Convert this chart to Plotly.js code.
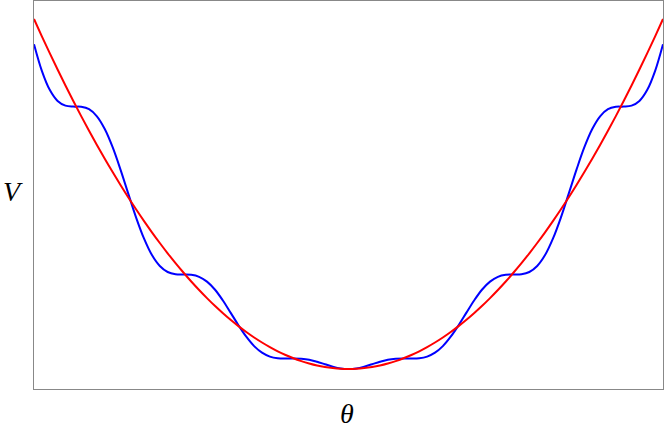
<!DOCTYPE html>
<html>
<head>
<meta charset="utf-8">
<script src="https://cdn.plot.ly/plotly-3.0.1.min.js"></script>
<style>
  html, body { margin: 0; padding: 0; background: #fff; }
  #chart { width: 664px; height: 432px; }
</style>
</head>
<body>
<div id="chart"></div>
<script>
// theta across the plot (no ticks shown, so units are arbitrary)
const theta = [
  -1, -0.975, -0.95, -0.925, -0.9, -0.875, -0.85, -0.825, -0.8, -0.775,
  -0.75, -0.725, -0.7, -0.675, -0.65, -0.625, -0.6, -0.575, -0.55, -0.525,
  -0.5, -0.475, -0.45, -0.425, -0.4, -0.375, -0.35, -0.325, -0.3, -0.275,
  -0.25, -0.225, -0.2, -0.175, -0.15, -0.125, -0.1, -0.075, -0.05, -0.025,
  0,
  0.025, 0.05, 0.075, 0.1, 0.125, 0.15, 0.175, 0.2, 0.225, 0.25,
  0.275, 0.3, 0.325, 0.35, 0.375, 0.4, 0.425, 0.45, 0.475, 0.5,
  0.525, 0.55, 0.575, 0.6, 0.625, 0.65, 0.675, 0.7, 0.725, 0.75,
  0.775, 0.8, 0.825, 0.85, 0.875, 0.9, 0.925, 0.95, 0.975, 1
];

// blue "staircase" potential
const vBlue = [
  344.8, 318.2, 299.2, 288.1, 283.4, 282.4, 282.2, 279.8, 272.7, 260.0,
  241.8, 219.4, 195.1, 171.2, 150.3, 133.9, 123.0, 117.0, 114.8, 114.5,
  114.2, 112.2, 107.4, 99.5, 88.8, 76.4, 63.8, 52.3, 42.9, 36.3,
  32.4, 30.7, 30.4, 30.5, 30.2, 29.2, 27.2, 24.8, 22.4, 20.6,
  20.0,
  20.6, 22.4, 24.8, 27.2, 29.2, 30.2, 30.5, 30.4, 30.7, 32.4,
  36.3, 42.9, 52.3, 63.8, 76.4, 88.8, 99.5, 107.4, 112.2, 114.2,
  114.5, 114.8, 117.0, 123.0, 133.9, 150.3, 171.2, 195.1, 219.4, 241.8,
  260.0, 272.7, 279.8, 282.2, 282.4, 283.4, 288.1, 299.2, 318.2, 344.8
];

// red parabola
const vRed = [
  370.0, 352.7, 335.9, 319.5, 303.5, 288.0, 272.9, 258.2, 244.0, 230.2,
  216.9, 204.0, 191.5, 179.5, 167.9, 156.7, 146.0, 135.7, 125.9, 116.5,
  107.5, 99.0, 90.9, 83.2, 76.0, 69.2, 62.9, 57.0, 51.5, 46.5,
  41.9, 37.7, 34.0, 30.7, 27.9, 25.5, 23.5, 22.0, 20.9, 20.2,
  20.0,
  20.2, 20.9, 22.0, 23.5, 25.5, 27.9, 30.7, 34.0, 37.7, 41.9,
  46.5, 51.5, 57.0, 62.9, 69.2, 76.0, 83.2, 90.9, 99.0, 107.5,
  116.5, 125.9, 135.7, 146.0, 156.7, 167.9, 179.5, 191.5, 204.0, 216.9,
  230.2, 244.0, 258.2, 272.9, 288.0, 303.5, 319.5, 335.9, 352.7, 370.0
];

const blueTrace = {
  x: theta, y: vBlue,
  type: 'scatter', mode: 'lines',
  line: { color: '#0000ff', width: 2, shape: 'spline', smoothing: 1 },
  hoverinfo: 'skip'
};

const redTrace = {
  x: theta, y: vRed,
  type: 'scatter', mode: 'lines',
  line: { color: '#ff0000', width: 2, shape: 'spline', smoothing: 1 },
  hoverinfo: 'skip'
};

const axisStyle = {
  showline: true, mirror: true, linecolor: '#888888', linewidth: 1,
  showgrid: false, zeroline: false, showticklabels: false, ticks: '',
  fixedrange: true
};

const labelFont = { family: 'Liberation Serif, DejaVu Serif, serif', size: 28, color: '#000' };

const layout = {
  width: 664, height: 432,
  margin: { l: 34, r: 1, t: 1, b: 43 },
  paper_bgcolor: '#fff', plot_bgcolor: '#fff',
  showlegend: false,
  xaxis: Object.assign({ range: [-1, 1] }, axisStyle),
  yaxis: Object.assign({ range: [0, 388] }, axisStyle),
  annotations: [
    { text: '<i>V</i>', xref: 'paper', yref: 'paper', x: -0.033, y: 0.51,
      xanchor: 'center', yanchor: 'middle', showarrow: false, font: labelFont },
    { text: '<i>θ</i>', xref: 'paper', yref: 'paper', x: 0.4976, y: -0.062,
      xanchor: 'center', yanchor: 'middle', showarrow: false, font: labelFont }
  ]
};

Plotly.newPlot('chart', [blueTrace, redTrace], layout, { displayModeBar: false, staticPlot: true });
</script>
</body>
</html>
